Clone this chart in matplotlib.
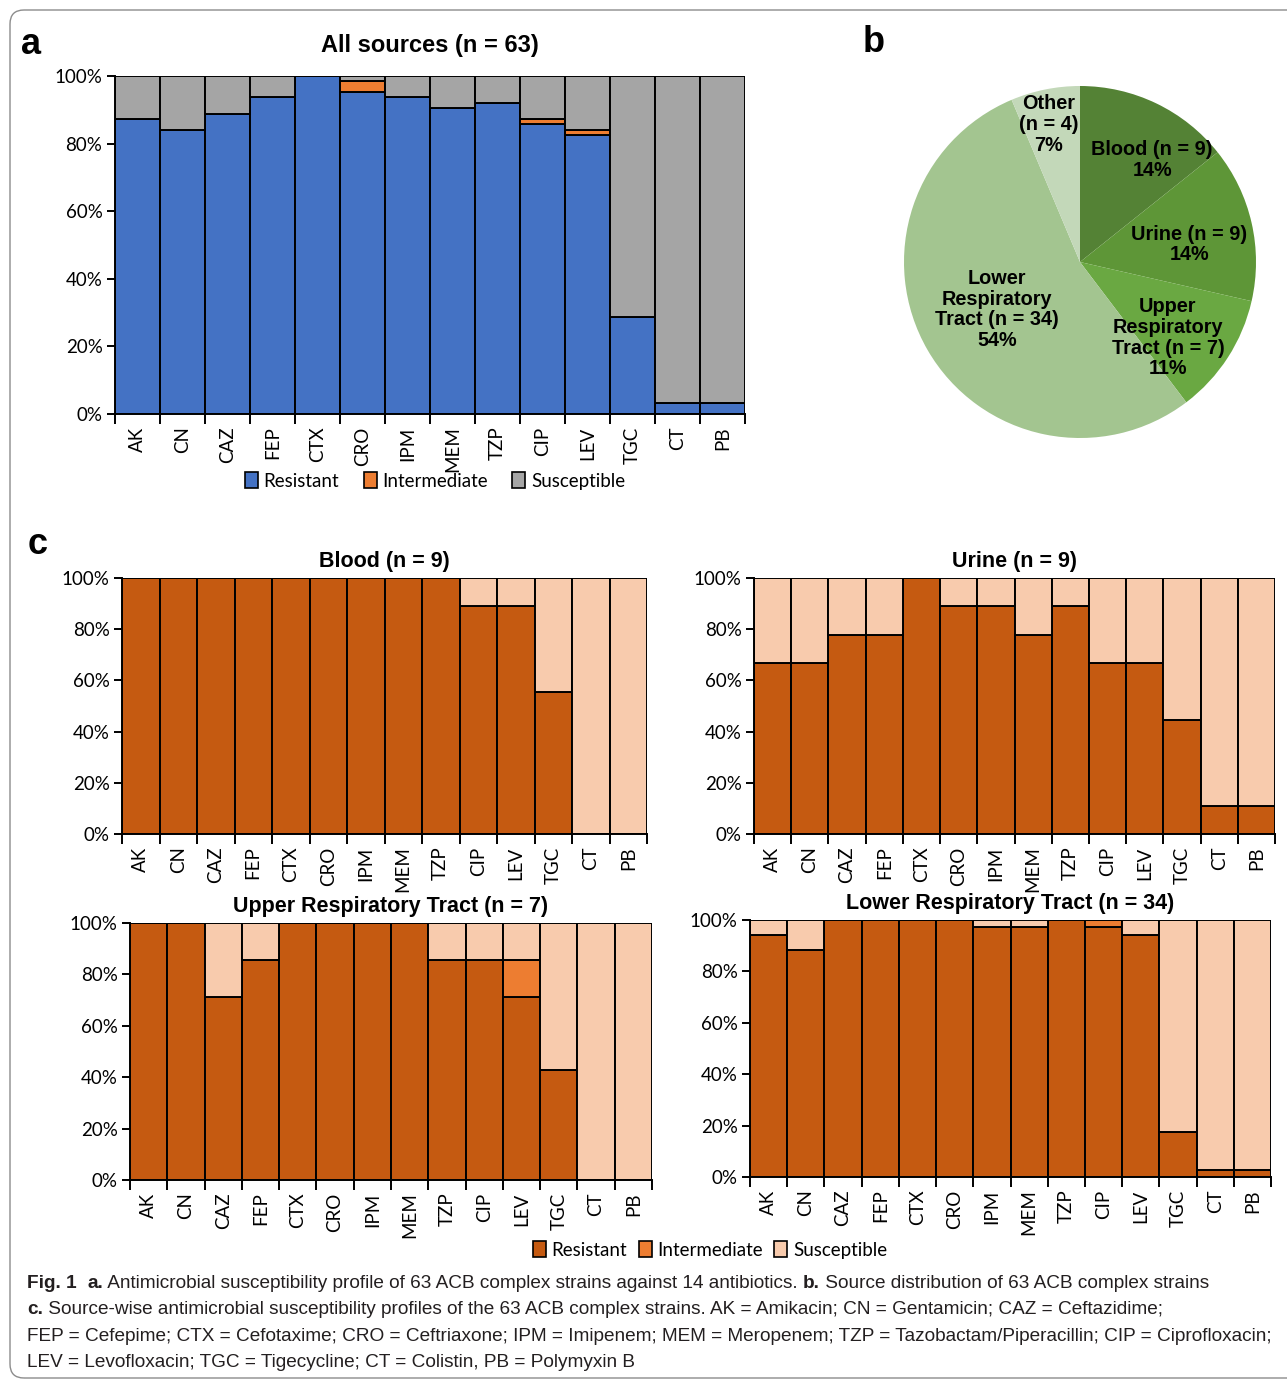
import numpy as np
import matplotlib
matplotlib.use("Agg")
import matplotlib.pyplot as plt
from matplotlib import font_manager
from matplotlib.patches import FancyBboxPatch, Patch

W, H = 1287, 1381

drugs = ["AK", "CN", "CAZ", "FEP", "CTX", "CRO", "IPM", "MEM", "TZP", "CIP", "LEV", "TGC", "CT", "PB"]

# percentages of isolates, resistant / intermediate (susceptible is the rest)
all_res = [87.3, 84.1, 88.9, 93.7, 100, 95.2, 93.7, 90.5, 92.1, 85.7, 82.5, 28.6, 3.2, 3.2]
all_int = [0, 0, 0, 0, 0, 3.2, 0, 0, 0, 1.6, 1.6, 0, 0, 0]

blood_res = [100, 100, 100, 100, 100, 100, 100, 100, 100, 88.9, 88.9, 55.6, 0, 0]
blood_int = [0, 0, 0, 0, 0, 0, 0, 0, 0, 0, 0, 0, 0, 0]

urine_res = [66.7, 66.7, 77.8, 77.8, 100, 88.9, 88.9, 77.8, 88.9, 66.7, 66.7, 44.4, 11.1, 11.1]
urine_int = [0, 0, 0, 0, 0, 0, 0, 0, 0, 0, 0, 0, 0, 0]

urt_res = [100, 100, 71.4, 85.7, 100, 100, 100, 100, 85.7, 85.7, 71.4, 42.9, 0, 0]
urt_int = [0, 0, 0, 0, 0, 0, 0, 0, 0, 0, 14.3, 0, 0, 0]

lrt_res = [94.1, 88.2, 100, 100, 100, 100, 97.1, 97.1, 100, 97.1, 94.1, 17.6, 2.9, 2.9]
lrt_int = [0, 0, 0, 0, 0, 0, 0, 0, 0, 2.9, 0, 0, 0, 0]

sources = ["Blood (n = 9)", "Urine (n = 9)", "Upper\nRespiratory\nTract (n = 7)",
           "Lower\nRespiratory\nTract (n = 34)", "Other\n(n = 4)"]
source_n = [9, 9, 7, 34, 4]
source_pct = ["14%", "14%", "11%", "54%", "7%"]

cols_a = ["#4472C4", "#ED7D31", "#A5A5A5"]
cols_c = ["#C55A11", "#ED7D31", "#F8CBAD"]
pie_cols = ["#548235", "#5E9637", "#6AA842", "#A3C590", "#C3D8B9"]


def pick(*names):
    for n in names:
        try:
            font_manager.findfont(n, fallback_to_default=False)
            return n
        except Exception:
            pass
    return "DejaVu Sans"


narrow = pick("Liberation Sans Narrow", "Liberation Sans")
arial = pick("Liberation Sans", "DejaVu Sans")
calib = pick("Lato", "Open Sans")

fig = plt.figure(figsize=(W / 100, H / 100), dpi=100)


def rect(l, r, t, b):
    return [l / W, 1 - b / H, (r - l) / W, (b - t) / H]


def stacked(ax, res, inter, cols, title, tfont, tsize, tpad=8):
    x = np.arange(len(drugs))
    res = np.array(res, dtype=float)
    inter = np.array(inter, dtype=float)
    sus = 100 - res - inter
    kw = dict(width=1.0, edgecolor="black", linewidth=1.4)
    ax.bar(x, res, color=cols[0], **kw)
    ax.bar(x, inter, bottom=res, color=cols[1], **kw)
    ax.bar(x, sus, bottom=res + inter, color=cols[2], **kw)
    ax.set_xlim(-0.5, len(drugs) - 0.5)
    ax.set_ylim(0, 100)
    for s in ["top", "right"]:
        ax.spines[s].set_visible(False)
    for s in ["left", "bottom"]:
        ax.spines[s].set_linewidth(1.4)
    ax.set_yticks(range(0, 101, 20))
    ax.set_yticklabels([f"{v}%" for v in range(0, 101, 20)], family=calib, fontsize=13.5)
    ax.tick_params(axis="y", direction="out", length=6, width=1.4, pad=3)
    ax.set_xticks(x)
    ax.set_xticklabels(drugs, rotation=90, family=calib, fontsize=13.5)
    ax.tick_params(axis="x", which="major", length=0, pad=9)
    ax.set_xticks(np.arange(-0.5, len(drugs)), minor=True)
    ax.tick_params(axis="x", which="minor", direction="out", length=7, width=1.4)
    ax.set_title(title, family=tfont, fontweight="bold", fontsize=tsize, pad=tpad)


# a: all sources
ax_a = fig.add_axes(rect(115, 745, 76, 414))
stacked(ax_a, all_res, all_int, cols_a, "All sources (n = 63)", narrow, 17, tpad=17)

# b: source distribution pie
cx, cy, rad = 1080, 262, 176
ax_b = fig.add_axes(rect(cx - rad, cx + rad, cy - rad, cy + rad))
ax_b.pie(source_n, colors=pie_cols, startangle=90, counterclock=False,
         wedgeprops=dict(linewidth=0))
ax_b.set_xlim(-1, 1)
ax_b.set_ylim(-1, 1)
ax_b.set_aspect("equal")
label_xy = [(0.41, 0.58), (0.62, 0.10), (0.50, -0.43), (-0.47, -0.27), (-0.18, 0.78)]
for (lx, ly), name, p in zip(label_xy, sources, source_pct):
    ax_b.text(lx, ly, f"{name}\n{p}", ha="center", va="center", family=arial,
              fontweight="bold", fontsize=14.3, linespacing=1.12)

# c: per-source panels
ax_bl = fig.add_axes(rect(122, 647, 578, 834))
stacked(ax_bl, blood_res, blood_int, cols_c, "Blood (n = 9)", arial, 15.5)
ax_ur = fig.add_axes(rect(754, 1275, 578, 834))
stacked(ax_ur, urine_res, urine_int, cols_c, "Urine (n = 9)", arial, 15.5)
ax_up = fig.add_axes(rect(130, 652, 923, 1180))
stacked(ax_up, urt_res, urt_int, cols_c, "Upper Respiratory Tract (n = 7)", arial, 15.5)
ax_lo = fig.add_axes(rect(750, 1271, 920, 1177))
stacked(ax_lo, lrt_res, lrt_int, cols_c, "Lower Respiratory Tract (n = 34)", arial, 15.5)

cats = ["Resistant", "Intermediate", "Susceptible"]
for cols, xc, yc in [(cols_a, 435, 481), (cols_c, 710, 1250)]:
    hs = [Patch(facecolor=c, edgecolor="black", linewidth=1.2, label=l) for c, l in zip(cols, cats)]
    fig.legend(handles=hs, loc="center", bbox_to_anchor=(xc / W, 1 - yc / H), ncol=3,
               frameon=False, prop=dict(family=calib, size=13.5), handlelength=0.7,
               handleheight=0.9, handletextpad=0.3, columnspacing=1.3 if yc < 600 else 0.6)

# panel letters
for s, x, y in [("a", 31, 44), ("b", 874, 42), ("c", 38, 545)]:
    fig.text(x / W, 1 - y / H, s, family=arial, fontweight="bold", fontsize=26,
             ha="center", va="center")

# caption
renderer = fig.canvas.get_renderer()
cap = [
    (1288, [("Fig. 1", True), ("  ", False), ("a.", True),
            (" Antimicrobial susceptibility profile of 63 ACB complex strains against 14 antibiotics. ", False),
            ("b.", True), (" Source distribution of 63 ACB complex strains", False)]),
    (1314, [("c.", True),
            (" Source-wise antimicrobial susceptibility profiles of the 63 ACB complex strains. "
             "AK = Amikacin; CN = Gentamicin; CAZ = Ceftazidime;", False)]),
    (1341, [("FEP = Cefepime; CTX = Cefotaxime; CRO = Ceftriaxone; IPM = Imipenem; MEM = Meropenem; "
             "TZP = Tazobactam/Piperacillin; CIP = Ciprofloxacin;", False)]),
    (1367, [("LEV = Levofloxacin; TGC = Tigecycline; CT = Colistin, PB = Polymyxin B", False)]),
]
for y, parts in cap:
    x = 27
    for txt, bold in parts:
        t = fig.text(x / W, 1 - y / H, txt, family=narrow, fontsize=13.7, color="#231f20",
                     fontweight="bold" if bold else "normal", va="baseline", ha="left")
        x += t.get_window_extent(renderer).width

# rounded frame round the whole figure
frame = FancyBboxPatch((10, 3), 1320, 1368, boxstyle="round,pad=0,rounding_size=14",
                       facecolor="none", edgecolor="#8c8c8c", linewidth=1.0, transform=None)
fig.patches.append(frame)

fig.savefig("out.png", dpi=100)
